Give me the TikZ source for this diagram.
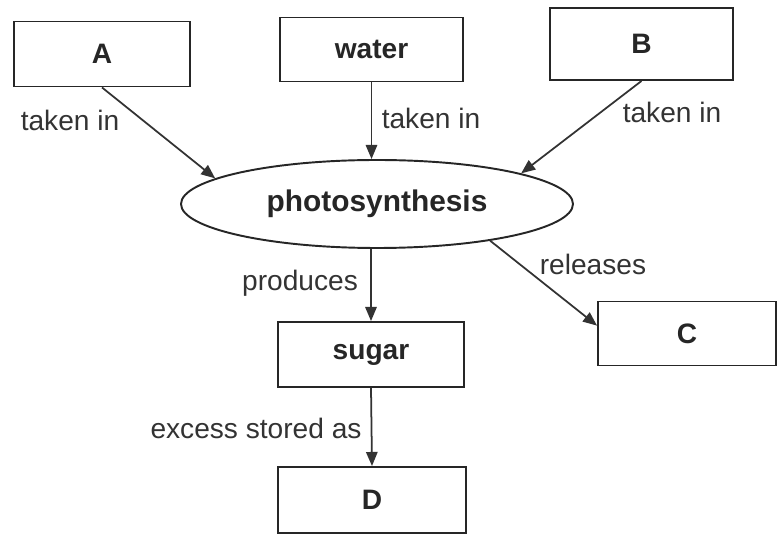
\documentclass[tikz,border=0pt]{standalone}
\usepackage{fontspec}
\setmainfont{Liberation Sans}
\usepackage{tikz}
\usetikzlibrary{shapes.geometric,arrows.meta}

\tikzset{
    conbox/.style={draw=black!85, line width=1.1pt, minimum width=3.66cm, minimum height=1.28cm, font=\fontsize{16}{19}\selectfont\bfseries, text=black!85},
    conlink/.style={draw=black!80, line width=1pt, -{Triangle[length=8pt,width=6.5pt]}},
    conlabel/.style={font=\fontsize{16}{19}\selectfont, text=black!80}
}

\begin{document}
\begin{tikzpicture}
        \useasboundingbox (0,0) rectangle (15.56,-10.72);

        % boxes
        \node[conbox, minimum width=3.52cm, minimum height=1.3cm] (A) at (2.04,-1.08) {A};
        \node[conbox] (water) at (7.43,-0.99) {water};
        \node[conbox, minimum height=1.44cm] (B) at (12.83,-0.88) {B};
        \node[draw=black!85, line width=1.1pt, ellipse, minimum width=7.84cm, minimum height=1.76cm,
              font=\fontsize{17}{20}\selectfont\bfseries, text=black!85] (photo) at (7.54,-4.08) {photosynthesis};
        \node[conbox, minimum width=3.72cm, minimum height=1.3cm] (sugar) at (7.42,-7.09) {sugar};
        \node[conbox, minimum width=3.56cm] (C) at (13.74,-6.67) {C};
        \node[conbox, minimum width=3.76cm, minimum height=1.32cm] (D) at (7.44,-10.0) {D};

        % connectors
        \draw[conlink] (A.south) -- (photo.171);
        \draw[conlink] (water.south) -- (water.south |- photo.north);
        \draw[conlink] (B.south) -- (photo.12);
        \draw[conlink] (sugar.north |- photo.south) -- (sugar.north);
        \draw[conlink] (photo.-18) -- (C.175);
        \draw[conlink] (sugar.south) -- (D.north);

        % labels
        \node[conlabel] (lblA) at (1.4,-2.4) {taken in};
        \node[conlabel] (lblwater) at (8.62,-2.36) {taken in};
        \node[conlabel] (lblB) at (13.44,-2.24) {taken in};
        \node[conlabel] (lblprod) at (6.0,-5.66) {produces};
        \node[conlabel] (lblrel) at (11.86,-5.28) {releases};
        \node[conlabel] (lblexc) at (5.12,-8.56) {excess stored as};
    \end{tikzpicture}
\end{document}
